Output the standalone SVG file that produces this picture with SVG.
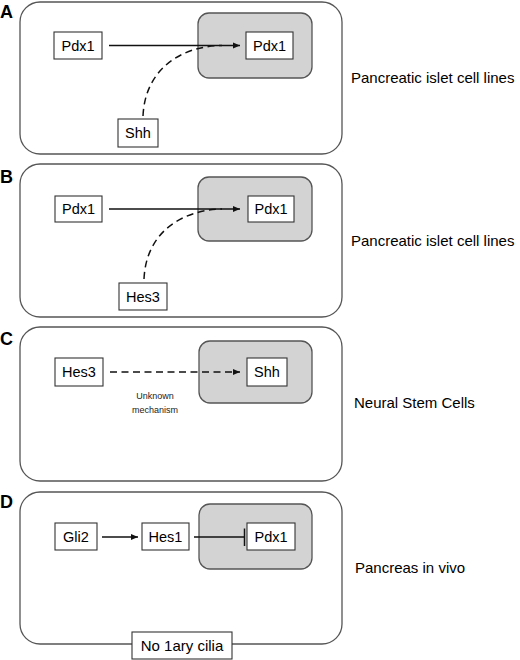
<svg xmlns="http://www.w3.org/2000/svg" width="520" height="660" viewBox="0 0 520 660">
<defs>
<style>
.panel{fill:#fff;stroke:#555;stroke-width:1.3}
.nuc{fill:#d3d3d3;stroke:#555;stroke-width:1.3}
.box{fill:#fff;stroke:#333;stroke-width:1.1}
.t{font-family:"Liberation Sans",Arial,sans-serif;font-size:14.5px;fill:#000;text-anchor:middle}
.lab{font-family:"Liberation Sans",Arial,sans-serif;font-size:15px;fill:#000}
.big{font-family:"Liberation Sans",Arial,sans-serif;font-size:18px;font-weight:bold;fill:#000}
.small{font-family:"Liberation Sans",Arial,sans-serif;font-size:9px;fill:#222;text-anchor:middle}
.solid{fill:none;stroke:#111;stroke-width:1.5}
.dash{fill:none;stroke:#111;stroke-width:1.5;stroke-dasharray:7 4.5}
</style>
<marker id="ah" markerUnits="userSpaceOnUse" markerWidth="8" markerHeight="8" viewBox="0 0 8 8" refX="7" refY="4" orient="auto">
<path d="M0,1 L7,4 L0,7 Z" fill="#111"/>
</marker>
</defs>
<rect width="520" height="660" fill="#fff"/>

<g id="panelA">
<rect class="panel" x="20" y="2" width="322" height="152" rx="20"/>
<rect class="nuc" x="198" y="13" width="114" height="65" rx="11"/>
<text class="big" x="0" y="18">A</text>
<text class="lab" x="351" y="83">Pancreatic islet cell lines</text>
</g>
<g id="panelB">
<rect class="panel" x="20" y="164" width="322" height="153" rx="20"/>
<rect class="nuc" x="198" y="177" width="114" height="64" rx="11"/>
<text class="big" x="0" y="183">B</text>
<text class="lab" x="351" y="246">Pancreatic islet cell lines</text>
</g>
<g id="panelC">
<rect class="panel" x="20" y="327" width="322" height="154" rx="20"/>
<rect class="nuc" x="199" y="341" width="113" height="62" rx="11"/>
<text class="big" x="0" y="345">C</text>
<text class="lab" x="354" y="408">Neural Stem Cells</text>
</g>
<g id="panelD">
<rect class="panel" x="20" y="492" width="322" height="152" rx="20"/>
<rect class="nuc" x="199" y="504" width="113" height="65" rx="11"/>
<text class="big" x="0" y="508">D</text>
<text class="lab" x="355" y="573">Pancreas in vivo</text>
</g>

<g id="connectors">
<path class="solid" d="M109,45.5 L240,45.5" marker-end="url(#ah)"/>
<path class="dash" d="M143,116 C145,70 180,46 222,45.5"/>
<path class="solid" d="M109,209 L240,209" marker-end="url(#ah)"/>
<path class="dash" d="M144,279 C146,233 181,210 222,209"/>
<path class="dash" d="M110,372 L240,372" marker-end="url(#ah)"/>
<path class="solid" d="M102,537 L138,537" marker-end="url(#ah)"/>
<path class="solid" d="M194,537 L244.5,537"/>
<path class="solid" d="M244.5,528.5 L244.5,546"/>
</g>

<g id="nodeA1"><rect class="box" x="54" y="32" width="48" height="27"/><text class="t" x="78" y="50.5">Pdx1</text></g>
<g id="nodeA2"><rect class="box" x="246" y="32" width="47" height="27"/><text class="t" x="269.5" y="50.5">Pdx1</text></g>
<g id="nodeA3"><rect class="box" x="118" y="119" width="40" height="28"/><text class="t" x="138" y="138">Shh</text></g>

<g id="nodeB1"><rect class="box" x="55" y="196" width="47" height="26"/><text class="t" x="78.5" y="214">Pdx1</text></g>
<g id="nodeB2"><rect class="box" x="248" y="196" width="46" height="26"/><text class="t" x="271" y="214">Pdx1</text></g>
<g id="nodeB3"><rect class="box" x="119" y="283" width="48" height="27"/><text class="t" x="143" y="302">Hes3</text></g>

<g id="nodeC1"><rect class="box" x="55" y="358" width="48" height="28"/><text class="t" x="79" y="377">Hes3</text></g>
<g id="nodeC2"><rect class="box" x="247" y="358" width="40" height="28"/><text class="t" x="267" y="377">Shh</text></g>
<g id="labelC"><text class="small" x="155" y="399">Unknown</text><text class="small" x="155" y="413">mechanism</text></g>

<g id="nodeD1"><rect class="box" x="55" y="523" width="42" height="27"/><text class="t" x="76" y="542">Gli2</text></g>
<g id="nodeD2"><rect class="box" x="142" y="523" width="47" height="27"/><text class="t" x="165.5" y="542">Hes1</text></g>
<g id="nodeD3"><rect class="box" x="247" y="523" width="48" height="27"/><text class="t" x="271" y="542">Pdx1</text></g>
<g id="nodeD4"><rect class="box" x="132" y="632" width="100" height="27"/><text class="t" x="182" y="651" style="font-size:15px">No 1ary cilia</text></g>
</svg>
